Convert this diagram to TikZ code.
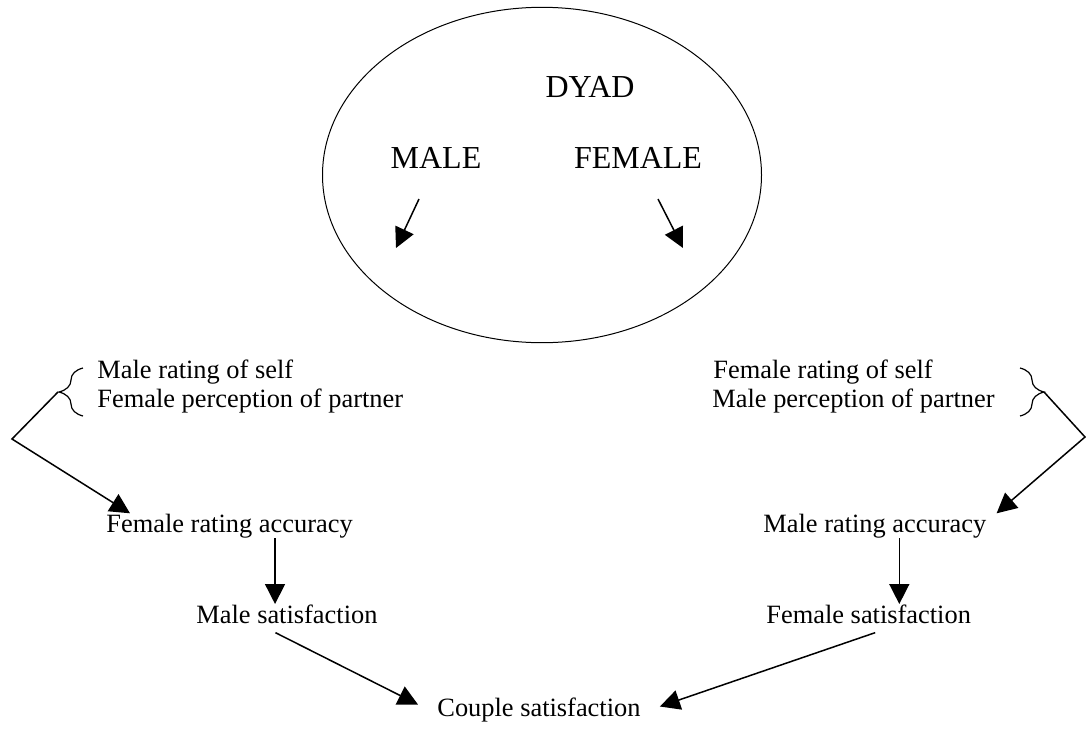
\documentclass[tikz,border=0pt]{standalone}
\usepackage{fontspec}
\setmainfont{Liberation Serif}
\usetikzlibrary{shapes.geometric, arrows.meta, decorations.pathreplacing}
\tikzset{
  textnode/.style={inner sep=0pt, font=\fontsize{13.2}{16}\selectfont},
  bignode/.style={inner sep=0pt, font=\fontsize{16}{19}\selectfont},
  dyadnode/.style={
    ellipse, draw, line width=0.5pt,
    minimum width=219.5pt, minimum height=167.7pt, inner sep=0pt
  },
  myarrow/.style={line width=0.75pt, -{Triangle[length=10pt, width=10pt]}},
  bracedeco/.style={line width=0.6pt, decorate, decoration={brace, amplitude=12pt}}
}

\begin{document}
\begin{tikzpicture}[x=0.5pt, y=-0.5pt]
  \useasboundingbox (0,0) rectangle (1086,728);

  %% — — — Dyad — — —
  \node[dyadnode] (dyad) at (542,175) {};
  \node[bignode, anchor=base] (dyadlbl) at (590,97) {DYAD};
  \node[bignode, anchor=base] (male)   at (436,168) {MALE};
  \node[bignode, anchor=base] (female) at (638,168) {FEMALE};
  \coordinate (maletip)   at (396,248);
  \coordinate (femaletip) at (683,248);

  %% — — — Ratings — — —
  \node[textnode, anchor=base west] (mself) at (97,378) {Male rating of self};
  \node[textnode, anchor=base west] (fperc) at (97,407) {Female perception of partner};
  \node[textnode, anchor=base west] (fself) at (713,378) {Female rating of self};
  \node[textnode, anchor=base west] (mperc) at (712,407) {Male perception of partner};

  %% — — — Braces — — —
  \draw[bracedeco] (83,416) -- (83,368);
  \draw[bracedeco] (1020,368) -- (1020,416);
  \coordinate (lbrace)  at (58,392);
  \coordinate (rbrace)  at (1044,392);
  \coordinate (lcorner) at (12,439);
  \coordinate (rcorner) at (1085,437);

  %% — — — Accuracy and satisfaction — — —
  \node[textnode, anchor=base west] (facc)   at (106,532) {Female rating accuracy};
  \node[textnode, anchor=base west] (macc)   at (763,532) {Male rating accuracy};
  \node[textnode, anchor=base west] (msat)   at (196,623) {Male satisfaction};
  \node[textnode, anchor=base west] (fsat)   at (766,623) {Female satisfaction};
  \node[textnode, anchor=base west] (couple) at (437,716) {Couple satisfaction};

  %% — — — Arrows — — —
  \draw[myarrow] ([shift={(-17,31)}]male.base) -- (maletip);
  \draw[myarrow] ([shift={(20,31)}]female.base) -- (femaletip);

  \draw[myarrow] (lbrace) -- (lcorner) -- ([xshift=12pt]facc.north west);
  \draw[myarrow] (rbrace) -- (rcorner) -- ([xshift=5pt]macc.north east);

  \draw[myarrow] ([xshift=22.75pt]facc.south) -- ([xshift=22.75pt]facc.south |- msat.north);
  \draw[myarrow] ([xshift=12.25pt]macc.south) -- ([xshift=12.25pt]macc.south |- fsat.north);

  \draw[myarrow] ([shift={(-11.5,9)}]msat.south) -- ([shift={(-19,-5)}]couple.west);
  \draw[myarrow] ([shift={(6.5,9)}]fsat.south) -- ([shift={(19,-3)}]couple.east);

\end{tikzpicture}
\end{document}
